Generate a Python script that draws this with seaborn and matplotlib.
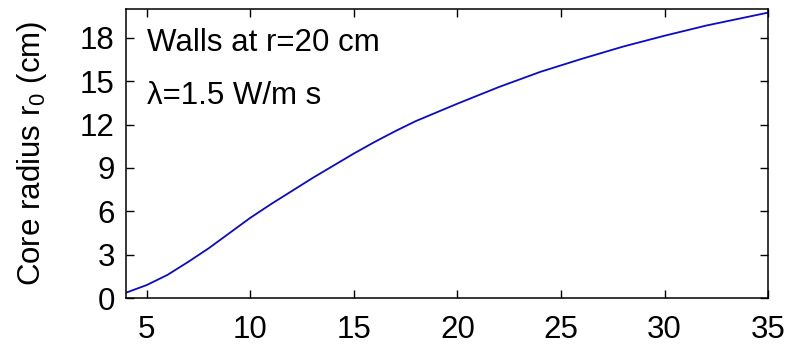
import matplotlib
matplotlib.use("Agg")
import matplotlib.pyplot as plt
import seaborn as sns
import pandas as pd

# values
x_vals = [4, 5, 6, 7, 8, 9, 10, 11, 12, 13, 14, 15, 16, 17, 18, 19, 20,
          22, 24, 26, 28, 30, 32, 35]
r0_vals = [0.37, 0.9, 1.6, 2.5, 3.45, 4.5, 5.55, 6.5, 7.4, 8.3, 9.15, 10.0,
           10.8, 11.55, 12.25, 12.85, 13.45, 14.6, 15.65, 16.55, 17.4, 18.15,
           18.85, 19.75]
x_ticks = [5, 10, 15, 20, 25, 30, 35]
y_ticks = [0, 3, 6, 9, 12, 15, 18]

sns.set_style("ticks")
plt.rcParams['font.family'] = ['Liberation Sans', 'DejaVu Sans']
plt.rcParams['mathtext.default'] = 'regular'
plt.rcParams['text.color'] = 'black'
plt.rcParams['axes.labelcolor'] = 'black'

data = pd.DataFrame({'x': x_vals, 'r0': r0_vals})

fig = plt.figure(figsize=(7.92, 3.45), dpi=100)
ax = fig.add_axes([0.159, 0.136, 0.811, 0.838])

sns.lineplot(data=data, x='x', y='r0', color='#0a0ac8', linewidth=1.3, ax=ax)

ax.set_xlim(4, 35)
ax.set_ylim(0, 20)
ax.set_xticks(x_ticks)
ax.set_yticks(y_ticks)
ax.tick_params(direction='in', length=6, width=1, top=True, right=True,
               labelsize=22.5, colors='black')
ax.tick_params(axis='x', pad=12)
ax.tick_params(axis='y', pad=8)
for s in ax.spines.values():
    s.set_visible(True)
    s.set_linewidth(1.1)
    s.set_color('black')

ax.set_xlabel('')
ax.set_ylabel('Core radius r$_0$ (cm)', fontsize=22.5, labelpad=22)

ax.text(0.033, 0.855, 'Walls at r=20 cm', transform=ax.transAxes,
        fontsize=22.5, va='baseline', ha='left')
ax.text(0.033, 0.672, 'λ=1.5 W/m s', transform=ax.transAxes,
        fontsize=22.5, va='baseline', ha='left')

fig.savefig('out.png', dpi=100)
